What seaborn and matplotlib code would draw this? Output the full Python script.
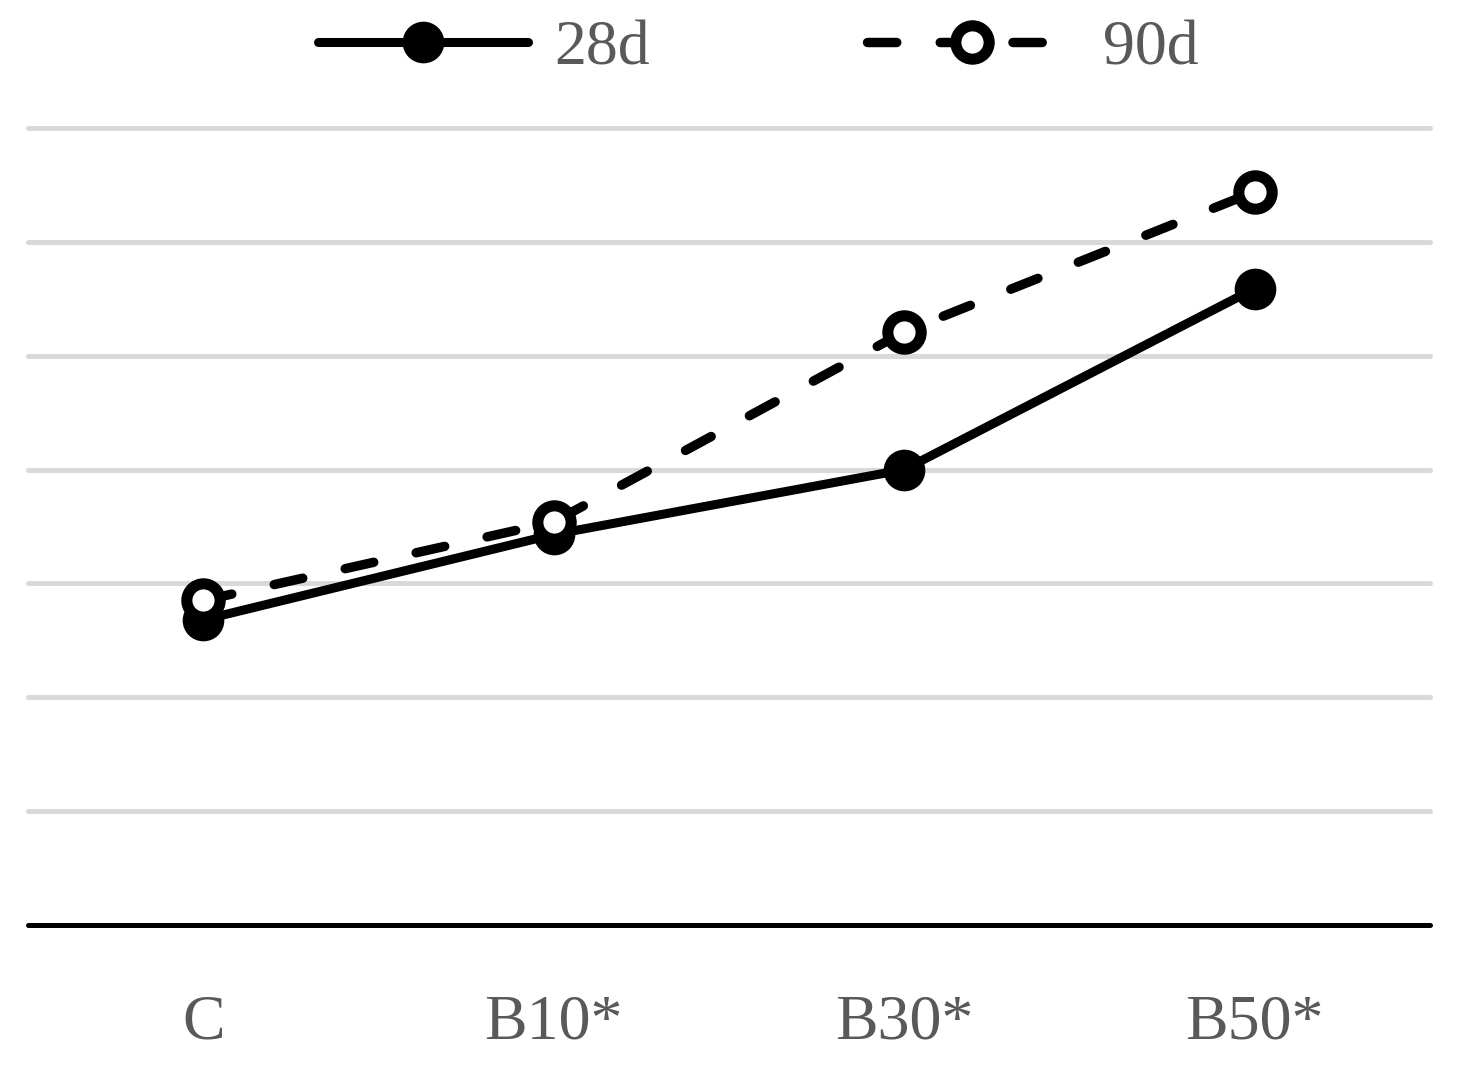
import pandas as pd
import numpy as np
import matplotlib.pyplot as plt
import seaborn as sns

categories = ['C', 'B10*', 'B30*', 'B50*']
values_28d = [2.68, 3.43, 4.00, 5.59]
values_90d = [2.85, 3.54, 5.21, 6.44]
series_names = ['28d', '90d']

sns.set_style('white')
plt.rcParams['font.family'] = ['Liberation Serif', 'DejaVu Serif']

fig = plt.figure(figsize=(14.58, 10.69), dpi=100)
ax = fig.add_axes([0.0192, 0.1347, 0.9616, 0.7456])

df = pd.DataFrame({'cat': categories, '28d': values_28d, '90d': values_90d})

dash_pat = [3.1, 4.6]

sns.lineplot(data=df, x='cat', y='28d', ax=ax, color='black', linewidth=6.5,
             marker='o', markersize=27, markerfacecolor='black',
             markeredgecolor='black', markeredgewidth=3, sort=False, zorder=3)
sns.lineplot(data=df, x='cat', y='90d', ax=ax, color='black', linewidth=6.8,
             marker='o', markersize=24, markerfacecolor='white',
             markeredgecolor='black', markeredgewidth=8, sort=False,
             dashes=False, zorder=4)
line90 = ax.lines[-1]
line90.set_dashes(dash_pat)
line90.set_dash_capstyle('round')
ax.lines[0].set_solid_capstyle('round')

ax.set_ylim(0, 7)
ax.set_xlim(-0.5, 3.5)
for yv in range(1, 8):
    ax.axhline(yv, color='#d9d9d9', linewidth=3.6, zorder=1, clip_on=False)
ax.axhline(0, color='black', linewidth=3.6, zorder=2, clip_on=False)

sns.despine(ax=ax, left=True, bottom=True, top=True, right=True)
ax.set_yticks([])
ax.set_xlabel('')
ax.set_ylabel('')
ax.tick_params(axis='x', length=0, pad=50, labelsize=46, labelcolor='#595959')

h1 = plt.Line2D([], [], color='black', linewidth=6.5, marker='o', markersize=27,
                markerfacecolor='black', markeredgecolor='black',
                markeredgewidth=3, solid_capstyle='round')
h2 = plt.Line2D([], [], color='black', linewidth=6.8, marker='o', markersize=24,
                markerfacecolor='white', markeredgecolor='black',
                markeredgewidth=8, dashes=dash_pat, dash_capstyle='round')
fig.legend([h1, h2], series_names, loc='upper center',
           bbox_to_anchor=(0.52, 1.035), ncol=2, frameon=False,
           fontsize=46, labelcolor='#595959', handlelength=3.3,
           handletextpad=0.4, columnspacing=3.4)

fig.savefig('out.png', dpi=100, facecolor='white')
